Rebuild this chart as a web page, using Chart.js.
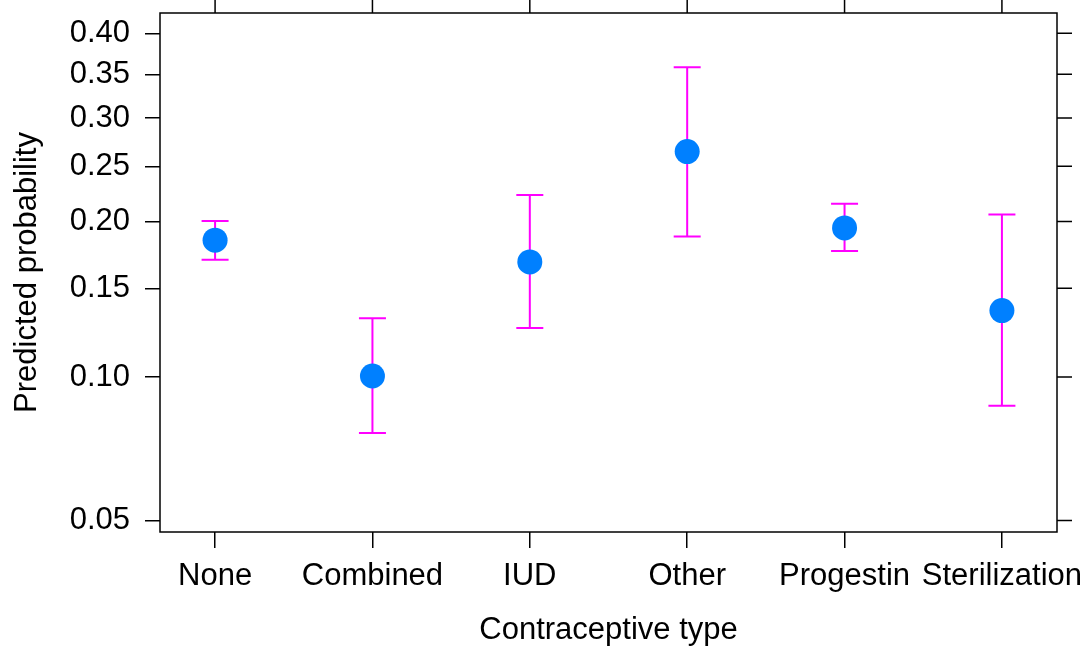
<!DOCTYPE html>
<html>
<head>
<meta charset="utf-8">
<script src="https://cdn.jsdelivr.net/npm/chart.js@4/dist/chart.umd.min.js"></script>
<style>
  html, body { margin: 0; padding: 0; background: #ffffff; }
  #wrap { width: 1088px; height: 652px; position: relative; }
</style>
</head>
<body>
<div id="wrap"><canvas id="c" width="1088" height="652"></canvas></div>
<script>
// ---- data ----
const categories = ["None", "Combined", "IUD", "Other", "Progestin", "Sterilization"];
const estimate   = [0.1849, 0.1005, 0.1684, 0.2647, 0.1947, 0.1358];
const lower      = [0.1699, 0.0766, 0.1255, 0.1877, 0.1766, 0.0873];
const upper      = [0.2005, 0.1312, 0.2231, 0.3585, 0.2151, 0.2058];
const yTickValues = [0.05, 0.10, 0.15, 0.20, 0.25, 0.30, 0.35, 0.40];
const yTickLabels = ["0.05", "0.10", "0.15", "0.20", "0.25", "0.30", "0.35", "0.40"];
const yLimits = [0.0472, 0.4257];
const xLimits = [-0.35, 5.35];

const logit = p => Math.log(p / (1 - p));

const FONT = "'Liberation Sans', Arial, Helvetica, sans-serif";
const FS = 31;
const BLUE = "#0080ff";
const MAGENTA = "#ff00ff";

const errorBars = {
  id: 'errorBars',
  beforeDatasetsDraw(chart) {
    const {ctx, scales: {x, y}} = chart;
    ctx.save();
    ctx.strokeStyle = MAGENTA;
    ctx.lineWidth = 2;
    const cap = 13.5;
    categories.forEach((c, i) => {
      const px = x.getPixelForValue(i);
      const pl = y.getPixelForValue(logit(lower[i]));
      const pu = y.getPixelForValue(logit(upper[i]));
      ctx.beginPath();
      ctx.moveTo(px, pl); ctx.lineTo(px, pu);
      ctx.moveTo(px - cap, pl); ctx.lineTo(px + cap, pl);
      ctx.moveTo(px - cap, pu); ctx.lineTo(px + cap, pu);
      ctx.stroke();
    });
    ctx.restore();
  }
};

const frame = {
  id: 'frame',
  afterDraw(chart) {
    const {ctx, chartArea: a, scales: {x, y}} = chart;
    ctx.save();
    ctx.strokeStyle = "#000";
    ctx.lineWidth = 1.5;
    ctx.strokeRect(a.left, a.top, a.right - a.left, a.bottom - a.top);
    ctx.beginPath();
    x.ticks.forEach((t, i) => {
      const px = x.getPixelForTick(i);
      ctx.moveTo(px, a.top); ctx.lineTo(px, a.top - 16);
    });
    y.ticks.forEach((t, i) => {
      const py = y.getPixelForTick(i);
      ctx.moveTo(a.right, py); ctx.lineTo(a.right + 15, py);
    });
    ctx.stroke();
    ctx.restore();
  }
};

new Chart(document.getElementById('c'), {
  type: 'scatter',
  data: {
    datasets: [{
      data: estimate.map((p, i) => ({x: i, y: logit(p)})),
      backgroundColor: BLUE,
      borderColor: BLUE,
      borderWidth: 0,
      pointRadius: 12.5,
      pointHoverRadius: 12.5
    }]
  },
  options: {
    responsive: false,
    animation: false,
    events: [],
    layout: { padding: { top: 13, right: 31, left: 0, bottom: 0 } },
    plugins: { legend: { display: false }, tooltip: { enabled: false } },
    scales: {
      x: {
        type: 'linear',
        min: xLimits[0], max: xLimits[1],
        afterBuildTicks: s => { s.ticks = categories.map((c, i) => ({value: i})); },
        afterFit: s => { s.height = 120; s.paddingLeft = 0; s.paddingRight = 0; },
        ticks: {
          callback: (v) => categories[Math.round(v)],
          color: "#000",
          font: { family: FONT, size: FS },
          padding: 10,
          maxRotation: 0, minRotation: 0, autoSkip: false
        },
        grid: { drawOnChartArea: false, drawTicks: true, tickLength: 16, color: "#000", lineWidth: 1.5 },
        border: { display: false },
        title: {
          display: true, text: "Contraceptive type", color: "#000",
          font: { family: FONT, size: FS }, padding: { top: 0, bottom: 3 }
        }
      },
      y: {
        type: 'linear',
        min: logit(yLimits[0]), max: logit(yLimits[1]),
        afterBuildTicks: s => { s.ticks = yTickValues.map(v => ({value: logit(v)})); },
        afterFit: s => { s.width = 160; s.paddingTop = 0; s.paddingBottom = 0; },
        ticks: {
          callback: (v, i) => yTickLabels[i],
          color: "#000",
          font: { family: FONT, size: FS },
          padding: 15
        },
        grid: { drawOnChartArea: false, drawTicks: true, tickLength: 15, color: "#000", lineWidth: 1.5 },
        border: { display: false },
        title: {
          display: true, text: "Predicted probability", color: "#000",
          font: { family: FONT, size: FS }, padding: { top: 9, bottom: 0 }
        }
      }
    }
  },
  plugins: [errorBars, frame]
});
</script>
</body>
</html>
